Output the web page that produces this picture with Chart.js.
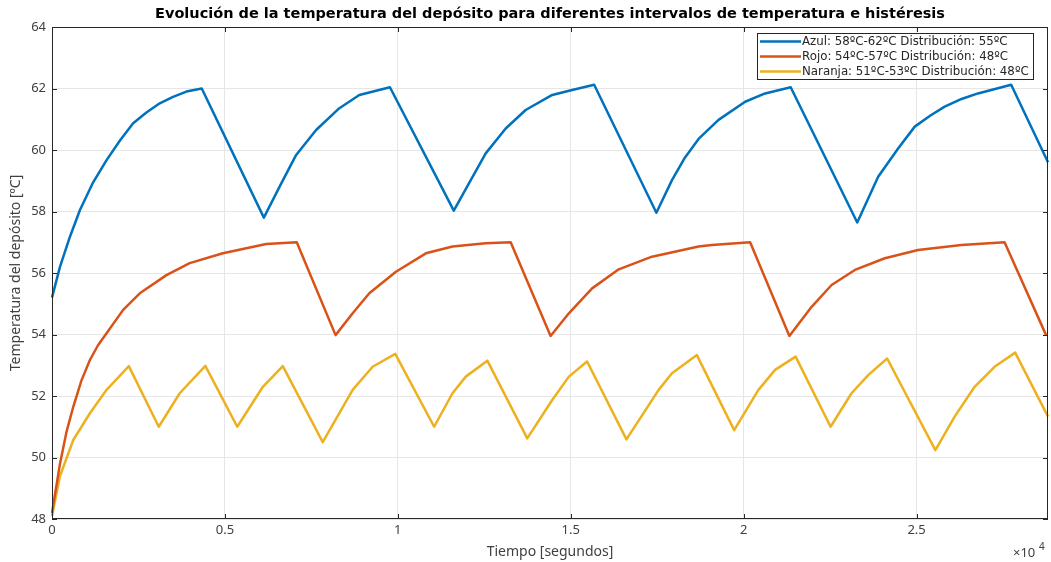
<!DOCTYPE html>
<html>
<head>
<meta charset="utf-8">
<script src="https://cdn.jsdelivr.net/npm/chart.js@4.4.0/dist/chart.umd.min.js"></script>
<style>
  body { margin: 0; background: #fff; }
  #wrap { width: 1051px; height: 562px; position: relative; }
</style>
</head>
<body>
<div id="wrap"><canvas id="chart"></canvas></div>
<script>
// Values (time in seconds, temperature in ºC)
const blueTime = [0, 230, 519, 808, 1190, 1578, 1960, 2346, 2730, 3116, 3500, 3886, 4330, 6126, 6600, 7060, 7637, 8309, 8886, 9772, 11618, 12060, 12541, 13119, 13696, 14464, 15040, 15677, 17476, 17927, 18300, 18696, 19273, 20043, 20620, 21360, 23284, 23889, 24466, 24947, 25400, 25813, 26300, 26775, 27735, 28800];
const blueTemp = [55.2, 56.2, 57.18, 58.05, 58.95, 59.67, 60.3, 60.87, 61.22, 61.52, 61.73, 61.9, 62.0, 57.8, 58.85, 59.84, 60.65, 61.36, 61.79, 62.04, 58.03, 58.92, 59.89, 60.7, 61.3, 61.79, 61.95, 62.12, 57.96, 59.02, 59.75, 60.36, 60.98, 61.57, 61.84, 62.04, 57.64, 59.13, 60.05, 60.76, 61.12, 61.41, 61.66, 61.84, 62.12, 59.6];

const redTime = [0, 231, 423, 615, 850, 1096, 1330, 1578, 2057, 2539, 3309, 3982, 4942, 6194, 7077, 8200, 8694, 9175, 9945, 10811, 11580, 12541, 13263, 14417, 14945, 15618, 16388, 17349, 18696, 19080, 20187, 21322, 21965, 22542, 23216, 24082, 25043, 26293, 27544, 28745];
const redTemp = [48.2, 49.8, 50.85, 51.65, 52.5, 53.17, 53.65, 54.04, 54.8, 55.34, 55.93, 56.32, 56.64, 56.94, 57.0, 53.98, 54.69, 55.34, 56.04, 56.64, 56.86, 56.97, 57.0, 53.95, 54.69, 55.5, 56.12, 56.53, 56.86, 56.91, 57.0, 53.95, 54.9, 55.61, 56.1, 56.48, 56.75, 56.91, 57.0, 53.98];

const yellowTime = [0, 231, 615, 1096, 1578, 2222, 3087, 3693, 4434, 5357, 6097, 6674, 7828, 8694, 9271, 9925, 11050, 11580, 11965, 12588, 13742, 14464, 14945, 15473, 16610, 17542, 17927, 18647, 19725, 20427, 20908, 21503, 22513, 23119, 23600, 24149, 25543, 26101, 26678, 27255, 27851, 28800];
const yellowTemp = [48.1, 49.4, 50.57, 51.44, 52.2, 52.97, 51.0, 52.09, 52.98, 51.0, 52.3, 52.97, 50.5, 52.2, 52.95, 53.37, 51.0, 52.09, 52.63, 53.15, 50.62, 51.87, 52.63, 53.12, 50.59, 52.2, 52.74, 53.33, 50.89, 52.2, 52.85, 53.28, 51.0, 52.09, 52.68, 53.22, 50.24, 51.33, 52.3, 52.95, 53.41, 51.33];

const seriesLabels = [
    'Azul: 58ºC-62ºC Distribución: 55ºC',
    'Rojo: 54ºC-57ºC Distribución: 48ºC',
    'Naranja: 51ºC-53ºC Distribución: 48ºC'
];
const seriesColors = ['#0072BD', '#D95319', '#EDB120'];

const titleText = 'Evolución de la temperatura del depósito para diferentes intervalos de temperatura e histéresis';
const xTitle = 'Tiempo [segundos]';
const yTitle = 'Temperatura del depósito [ºC]';
const xMax = 28800;
const yMin = 48, yMax = 64;

function toPoints(xs, ys) {
    return xs.map((x, i) => ({ x: x, y: ys[i] }));
}

const axisColor = '#262626';
const labelColor = '#404040';
const tickFont = { family: 'Noto Sans', size: 13 };
const axisTitleFont = { family: 'Noto Sans', size: 14 };

// MATLAB-like frame: box, inward ticks, title, legend and exponent label
const matlabFrame = {
    id: 'matlabFrame',
    afterDraw(chart) {
        const ctx = chart.ctx;
        const a = chart.chartArea;
        const xs = chart.scales.x, ys = chart.scales.y;
        ctx.save();
        ctx.strokeStyle = axisColor;
        ctx.lineWidth = 1;
        ctx.strokeRect(a.left + 0.5, a.top + 0.5, a.right - a.left - 1, a.bottom - a.top - 1);

        // inward ticks
        ctx.beginPath();
        xs.ticks.forEach(t => {
            const px = Math.round(xs.getPixelForValue(t.value)) + 0.5;
            ctx.moveTo(px, a.bottom); ctx.lineTo(px, a.bottom - 5);
            ctx.moveTo(px, a.top); ctx.lineTo(px, a.top + 5);
        });
        ys.ticks.forEach(t => {
            const py = Math.round(ys.getPixelForValue(t.value)) + 0.5;
            ctx.moveTo(a.left, py); ctx.lineTo(a.left + 5, py);
            ctx.moveTo(a.right, py); ctx.lineTo(a.right - 5, py);
        });
        ctx.stroke();

        // title
        ctx.fillStyle = '#000';
        ctx.font = 'bold 14.5px "DejaVu Sans"';
        ctx.textAlign = 'center';
        ctx.textBaseline = 'middle';
        ctx.fillText(titleText, (a.left + a.right) / 2, 14);

        // exponent label
        ctx.fillStyle = labelColor;
        ctx.textAlign = 'left';
        ctx.textBaseline = 'alphabetic';
        ctx.font = '13px "Noto Sans"';
        ctx.fillText('×10', 1013, 557);
        ctx.font = '10px "Noto Sans"';
        ctx.fillText('4', 1039, 550);

        // legend
        const lx = 757, ly = 33, lw = 276, lh = 46;
        ctx.fillStyle = '#fff';
        ctx.fillRect(lx, ly, lw, lh);
        ctx.strokeStyle = axisColor;
        ctx.lineWidth = 1;
        ctx.strokeRect(lx + 0.5, ly + 0.5, lw, lh);
        ctx.font = '11.8px "DejaVu Sans"';
        ctx.textBaseline = 'middle';
        chart.data.datasets.forEach((ds, i) => {
            const cy = ly + 8.5 + i * 15;
            ctx.strokeStyle = ds.borderColor;
            ctx.lineWidth = 2.5;
            ctx.beginPath();
            ctx.moveTo(lx + 3, cy); ctx.lineTo(lx + 44, cy);
            ctx.stroke();
            ctx.fillStyle = '#262626';
            ctx.fillText(ds.label, lx + 45, cy);
        });
        ctx.restore();
    }
};

const ctx = document.getElementById('chart').getContext('2d');
new Chart(ctx, {
    type: 'scatter',
    data: {
        datasets: [
            { label: seriesLabels[0], data: toPoints(blueTime, blueTemp) },
            { label: seriesLabels[1], data: toPoints(redTime, redTemp) },
            { label: seriesLabels[2], data: toPoints(yellowTime, yellowTemp) }
        ].map((ds, i) => Object.assign(ds, {
            showLine: true,
            borderColor: seriesColors[i],
            backgroundColor: seriesColors[i],
            borderWidth: 2.5,
            borderJoinStyle: 'round',
            pointRadius: 0,
            tension: 0,
            clip: 2
        }))
    },
    options: {
        responsive: true,
        maintainAspectRatio: false,
        animation: false,
        layout: { padding: { top: 27, right: 3, left: 0, bottom: 0 } },
        plugins: {
            legend: { display: false },
            tooltip: { enabled: false }
        },
        scales: {
            x: {
                type: 'linear',
                min: 0,
                max: xMax,
                afterFit: s => { s.height = 43; },
                afterBuildTicks: s => {
                    const t = [];
                    for (let v = 0; v <= xMax; v += 5000) t.push({ value: v });
                    s.ticks = t;
                },
                ticks: {
                    color: labelColor,
                    font: tickFont,
                    padding: 3,
                    maxRotation: 0,
                    callback: v => String(v / 10000)
                },
                grid: { color: '#e6e6e6', drawTicks: false },
                border: { display: false },
                title: {
                    display: true,
                    text: xTitle,
                    color: labelColor,
                    font: axisTitleFont,
                    padding: { top: 0, bottom: 2 }
                }
            },
            y: {
                min: yMin,
                max: yMax,
                afterFit: s => { s.width = 52; },
                ticks: {
                    stepSize: 2,
                    color: labelColor,
                    font: tickFont,
                    padding: 6
                },
                grid: { color: '#e6e6e6', drawTicks: false },
                border: { display: false },
                title: {
                    display: true,
                    text: yTitle,
                    color: labelColor,
                    font: axisTitleFont,
                    padding: { top: 8, bottom: 0 }
                }
            }
        }
    },
    plugins: [matlabFrame]
});
</script>
</body>
</html>
